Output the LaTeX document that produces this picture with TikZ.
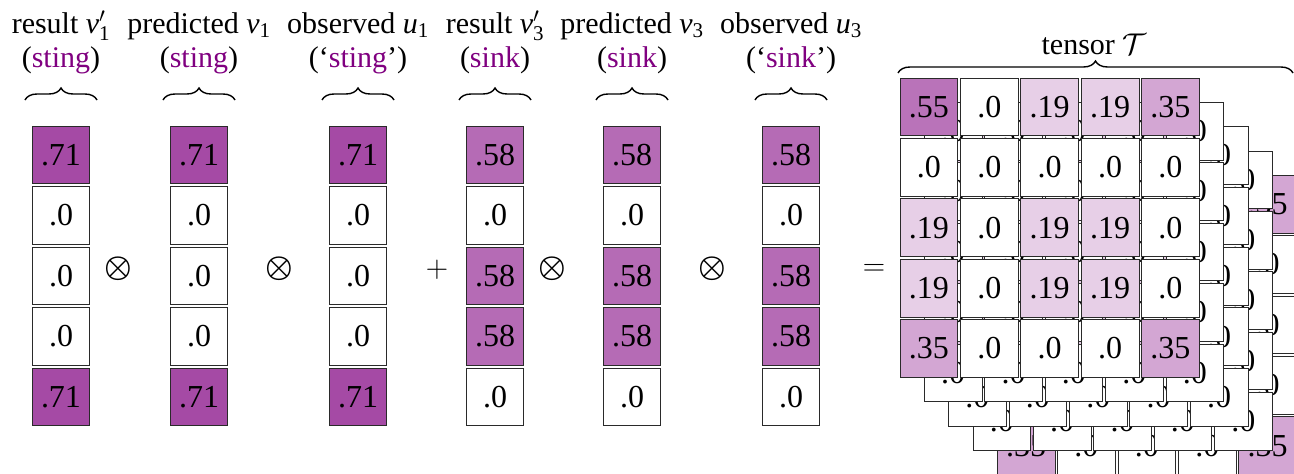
\documentclass[tikz,border=0pt]{standalone}
\usepackage{fix-cm}
\usepackage{amsmath}
\usepackage{fontspec}
\setmainfont{Liberation Serif}
\usetikzlibrary{decorations.pathreplacing}
\definecolor{vio}{HTML}{800080}
\definecolor{edge}{HTML}{2A2A2A}

% one column vector: #1 name, #2 x of centre, #3 the five entries (hundredths)
\newcommand\vectorcol[3]{%
  \foreach \v [count=\i] in {#3}{%
    \node[cell, fill=vio!\v!white] (#1-\i) at (#2,{155+(\i-1)*60.5}) {.\v};
  }%
}

\begin{document}
\begin{tikzpicture}[x=1pt,y=-1pt,
  cell/.style={draw=edge, line width=0.8pt, minimum width=57.7pt,
    minimum height=57.7pt, inner sep=0pt, font=\fontsize{32}{38}\selectfont},
  lab/.style={anchor=base, inner sep=0pt, font=\fontsize{30}{36}\selectfont},
  op/.style={inner sep=0pt, font=\fontsize{31}{36}\selectfont},
  brc/.style={decorate, decoration={brace, amplitude=12pt}, line width=1.4pt},
]
\useasboundingbox (0,0) rectangle (1294,474);
\clip (0,0) rectangle (1294,474);

% ---- the six column vectors
\vectorcol{r1}{61}{71,0,0,0,71}
\vectorcol{p1}{199}{71,0,0,0,71}
\vectorcol{o1}{358}{71,0,0,0,71}
\vectorcol{r3}{495}{58,0,58,58,0}
\vectorcol{p3}{632}{58,0,58,58,0}
\vectorcol{o3}{791}{58,0,58,58,0}

% ---- operators between them
\node[op] (x1) at (118,269) {$\boldsymbol{\otimes}$};
\node[op] (x2) at (279,269) {$\boldsymbol{\otimes}$};
\node[op] (pl) at (437,270) {$+$};
\node[op] (x3) at (552,269) {$\boldsymbol{\otimes}$};
\node[op] (x4) at (712,269) {$\boldsymbol{\otimes}$};
\node[op] (eq) at (874,270) {$=$};

% ---- headings over the vectors
\node[lab] (h1a) at (61,33)  {result \textit{v}$'_{\textrm{1}}$};
\node[lab] (h1b) at (61,67)  {(\textcolor{vio}{sting})};
\node[lab] (h2a) at (199,33) {predicted \textit{v}$_{\textrm{1}}$};
\node[lab] (h2b) at (199,67) {(\textcolor{vio}{sting})};
\node[lab] (h3a) at (358,33) {observed \textit{u}$_{\textrm{1}}$};
\node[lab] (h3b) at (358,67) {(`\textcolor{vio}{sting}')};
\node[lab] (h4a) at (495,33) {result \textit{v}$'_{\textrm{3}}$};
\node[lab] (h4b) at (495,67) {(\textcolor{vio}{sink})};
\node[lab] (h5a) at (632,33) {predicted \textit{v}$_{\textrm{3}}$};
\node[lab] (h5b) at (632,67) {(\textcolor{vio}{sink})};
\node[lab] (h6a) at (791,33) {observed \textit{u}$_{\textrm{3}}$};
\node[lab] (h6b) at (791,67) {(`\textcolor{vio}{sink}')};

\foreach \c in {61,199,358,495,632,791}{
  \draw[brc] (\c-36,100) -- (\c+36,100);
}

% ---- the 5x5x5 tensor, back slice first
\foreach \L/\vals in {
  5/{35,0,0,0,35, 0,0,0,0,0, 0,0,0,0,0, 0,0,0,0,0, 35,0,0,0,35},
  4/{19,0,19,19,0, 0,0,0,0,0, 19,0,19,19,0, 19,0,19,19,0, 0,0,0,0,0},
  3/{19,0,19,19,0, 0,0,0,0,0, 19,0,19,19,0, 19,0,19,19,0, 0,0,0,0,0},
  2/{0,0,0,0,0, 0,0,0,0,0, 0,0,0,0,0, 0,0,0,0,0, 0,0,0,0,0},
  1/{55,0,19,19,35, 0,0,0,0,0, 19,0,19,19,0, 19,0,19,19,0, 35,0,0,0,35}}{
  \foreach \v [count=\n from 0] in \vals {
    \pgfmathtruncatemacro\row{div(\n,5)}
    \pgfmathtruncatemacro\col{mod(\n,5)}
    \node[cell, fill=vio!\v!white] (t\L-\n)
      at ({928.85+\col*60.4+(\L-1)*24.3},{106.85+\row*60.4+(\L-1)*24.3}) {.\v};
  }
}

\node[lab] (tl) at (1094,54) {tensor $\mathcal{T}$};
\draw[brc] (898,73) -- (1293,73);
\end{tikzpicture}
\end{document}
